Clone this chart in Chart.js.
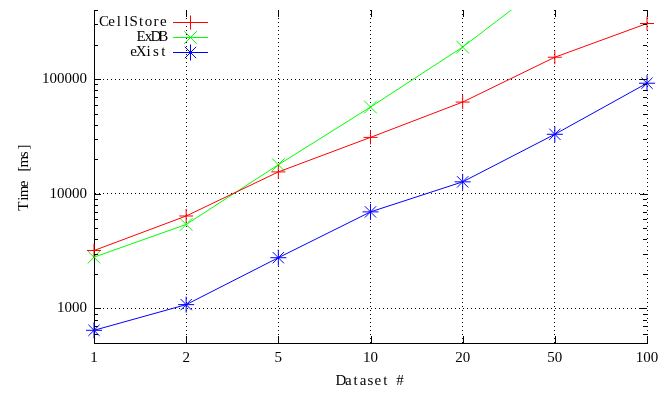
<!DOCTYPE html>
<html>
<head>
<meta charset="utf-8">
<script src="https://cdn.jsdelivr.net/npm/chart.js@4/dist/chart.umd.min.js"></script>
<style>
  body { margin: 0; background: #fff; }
  canvas { display: block; }
</style>
</head>
<body>
<canvas id="myChart" width="658" height="394"></canvas>
<script>
// Datos
const datasetNums = ['1', '2', '5', '10', '20', '50', '100'];
const cellStore = [3200, 6400, 15500, 31000, 63000, 155000, 305000];
const exDB = [2800, 5400, 17900, 57000, 190000, 780000, null];
const eXist = [645, 1080, 2770, 6950, 12700, 33000, 92000];
const yTicks = [1000, 10000, 100000];

const FONT = '15px "Liberation Serif", "DejaVu Serif", serif';

// texto con paso fijo (como gnuplot)
function drawFixed(ctx, s, cx, cy, pitch) {
    const start = cx - s.length * pitch / 2;
    for (let i = 0; i < s.length; i++) {
        ctx.fillText(s[i], start + (i + 0.5) * pitch, cy);
    }
}

function drawMarker(ctx, style, r, x, y) {
    ctx.beginPath();
    if (style === 'cross' || style === 'star') {
        ctx.moveTo(x - r, y); ctx.lineTo(x + r, y);
        ctx.moveTo(x, y - r); ctx.lineTo(x, y + r);
    }
    if (style === 'crossRot' || style === 'star') {
        const d = r * Math.SQRT1_2;
        ctx.moveTo(x - d, y - d); ctx.lineTo(x + d, y + d);
        ctx.moveTo(x - d, y + d); ctx.lineTo(x + d, y - d);
    }
    ctx.stroke();
}

const gnuplotDecor = {
    id: 'gnuplotDecor',
    afterDraw(chart) {
        const ctx = chart.ctx;
        const area = chart.chartArea;
        const ys = chart.scales.y;
        const xs = chart.scales.x;
        ctx.save();
        ctx.setLineDash([]);
        ctx.strokeStyle = '#000';
        ctx.lineWidth = 1;
        // ticks menores y mayores en eje y (izq. y der.)
        for (let d = 2; d <= 5; d++) {
            for (let k = 1; k <= 9; k++) {
                const v = k * Math.pow(10, d);
                if (v < ys.min || v > ys.max) continue;
                const y = Math.round(ys.getPixelForValue(v)) + 0.5;
                const len = k === 1 ? 7 : 4;
                ctx.beginPath();
                ctx.moveTo(area.left, y); ctx.lineTo(area.left + len, y);
                ctx.moveTo(area.right, y); ctx.lineTo(area.right - len, y);
                ctx.stroke();
            }
        }
        // ticks en eje x (abajo y arriba)
        datasetNums.forEach((_, i) => {
            const x = Math.round(xs.getPixelForValue(i)) + 0.5;
            ctx.beginPath();
            ctx.moveTo(x, area.bottom); ctx.lineTo(x, area.bottom - 7);
            ctx.moveTo(x, area.top); ctx.lineTo(x, area.top + 7);
            ctx.stroke();
        });

        // titulos de ejes
        ctx.fillStyle = '#000';
        ctx.font = FONT;
        ctx.textAlign = 'center';
        ctx.textBaseline = 'middle';
        drawFixed(ctx, 'Dataset #', (area.left + area.right) / 2, 381, 7.4);
        ctx.save();
        ctx.translate(24, (area.top + area.bottom) / 2);
        ctx.rotate(-Math.PI / 2);
        drawFixed(ctx, 'Time [ms]', 0, 0, 7.4);
        ctx.restore();

        // leyenda
        chart.data.datasets.forEach((ds, i) => {
            const y = 22 + i * 15;
            const label = ds.label;
            const right = 167;
            ctx.fillStyle = '#000';
            drawFixed(ctx, label, right - label.length * 7.4 / 2, y, 7.4);
            ctx.strokeStyle = ds.borderColor;
            ctx.beginPath();
            ctx.moveTo(173, y + 0.5); ctx.lineTo(208, y + 0.5);
            ctx.stroke();
            drawMarker(ctx, ds.pointStyle, ds.pointRadius, 190.5, y + 0.5);
        });
        ctx.restore();
    }
};

const ctx = document.getElementById('myChart').getContext('2d');
const myChart = new Chart(ctx, {
    type: 'line',
    data: {
        labels: datasetNums,
        datasets: [{
            label: 'CellStore',
            data: cellStore,
            borderColor: '#ff0000',
            pointBorderColor: '#ff0000',
            pointStyle: 'cross',
            pointRadius: 7
        },
        {
            label: 'ExDB',
            data: exDB,
            borderColor: '#00ff00',
            pointBorderColor: '#00ff00',
            pointStyle: 'crossRot',
            pointRadius: 9
        },
        {
            label: 'eXist',
            data: eXist,
            borderColor: '#0000ff',
            pointBorderColor: '#0000ff',
            pointStyle: 'star',
            pointRadius: 8
        }]
    },
    options: {
        responsive: false,
        animation: false,
        layout: { padding: { top: 9, right: 11, left: 0, bottom: 0 } },
        elements: {
            line: { borderWidth: 1, tension: 0, fill: false },
            point: { borderWidth: 1, backgroundColor: 'rgba(0,0,0,0)' }
        },
        plugins: {
            legend: { display: false },
            tooltip: { enabled: false }
        },
        scales: {
            x: {
                type: 'category',
                offset: false,
                afterFit: s => { s.height = 51; s.paddingLeft = 0; s.paddingRight = 0; },
                grid: { color: '#000', lineWidth: 1, drawTicks: false },
                border: { display: true, color: '#000', width: 1, dash: [1, 3] },
                ticks: { color: '#000', font: { family: '"Liberation Serif", serif', size: 15 }, padding: 6, maxRotation: 0 }
            },
            y: {
                type: 'logarithmic',
                min: 500,
                max: 400000,
                afterFit: s => { s.width = 94; s.paddingTop = 0; s.paddingBottom = 0; },
                afterBuildTicks: s => { s.ticks = yTicks.map(v => ({ value: v })); },
                grid: { color: '#000', lineWidth: 1, drawTicks: false },
                border: { display: true, color: '#000', width: 1, dash: [1, 3] },
                ticks: {
                    color: '#000',
                    font: { family: '"Liberation Serif", serif', size: 15 },
                    padding: 7,
                    callback: v => String(v)
                }
            }
        }
    },
    plugins: [gnuplotDecor]
});
</script>
</body>
</html>
